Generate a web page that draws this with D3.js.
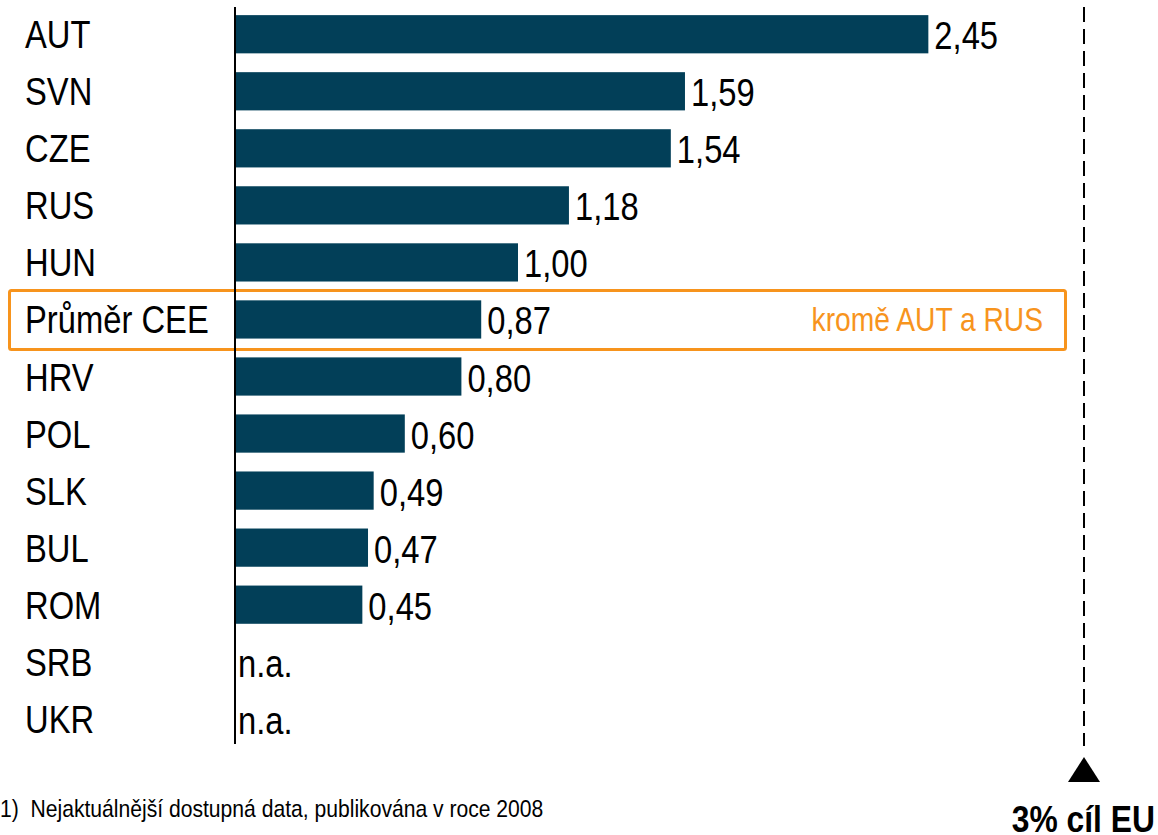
<!DOCTYPE html>
<html>
<head>
<meta charset="utf-8">
<script src="https://cdn.jsdelivr.net/npm/d3@7"></script>
<style>
  html, body { margin: 0; padding: 0; background: #fff; }
  svg { display: block; font-family: "Liberation Sans Narrow", "Arial Narrow", "Liberation Sans", Arial, sans-serif; }
</style>
</head>
<body>
<svg id="chart" width="1158" height="835"></svg>
<script>
// R&D spending, % of GDP
const countries = ["AUT", "SVN", "CZE", "RUS", "HUN", "Průměr CEE", "HRV", "POL", "SLK", "BUL", "ROM", "SRB", "UKR"];
const values = [2.45, 1.59, 1.54, 1.18, 1.00, 0.87, 0.80, 0.60, 0.49, 0.47, 0.45, null, null];
const targetValue = 3;
const averageLabel = "Průměr CEE";
const averageNote = "kromě AUT a RUS";
const targetLabel = "3% cíl EU";
const footnote = "1)  Nejaktuálnější dostupná data, publikována v roce 2008";

const BAR = "#023f58", ORANGE = "#f7941d";
// no narrow font installed -> squeeze regular text horizontally
const NARROW = 0.84;
const svg = d3.select("#chart");
const x0 = 235;
const x = d3.scaleLinear().domain([0, targetValue]).range([x0, 1084]);
const y = d3.scaleBand().domain(countries).range([6, 747]).paddingInner(0.33).paddingOuter(0.16);
const fmt = (v) => v.toFixed(2).replace(".", ",");
const rows = countries.map((c, i) => ({ c, v: values[i] }));
const at = (px, py, sx) => `translate(${px},${py}) scale(${sx},1)`;

// highlight box for the CEE average
const ya = y(averageLabel) + y.bandwidth() / 2;
svg.append("rect").attr("x", 9.5).attr("y", ya - 29).attr("width", 1056).attr("height", 59).attr("rx", 2)
  .attr("fill", "none").attr("stroke", ORANGE).attr("stroke-width", 3);
svg.append("text").attr("transform", at(1043, ya + 12, 0.855)).attr("text-anchor", "end")
  .attr("font-size", "33px").attr("fill", ORANGE).text(averageNote);

// bars
svg.append("g").selectAll("rect").data(rows.filter((d) => d.v != null)).join("rect")
  .attr("x", x0).attr("y", (d) => y(d.c)).attr("width", (d) => x(d.v) - x0).attr("height", y.bandwidth())
  .attr("fill", BAR);

// category labels
svg.append("g").selectAll("text").data(rows).join("text")
  .attr("transform", (d) => at(25, y(d.c) + y.bandwidth() / 2 + 14, NARROW))
  .attr("font-size", "39px").attr("fill", "#000").text((d) => d.c);

// value labels
svg.append("g").selectAll("text").data(rows).join("text")
  .attr("transform", (d) => at(d.v == null ? x0 + 3 : x(d.v) + 6, y(d.c) + y.bandwidth() / 2 + 15, NARROW))
  .attr("font-size", "39px").attr("fill", "#000").text((d) => (d.v == null ? "n.a." : fmt(d.v)));

// axis line
svg.append("line").attr("x1", x0).attr("x2", x0).attr("y1", 7).attr("y2", 744)
  .attr("stroke", "#000").attr("stroke-width", 2);

// EU target line
const xt = x(targetValue);
svg.append("line").attr("x1", xt).attr("x2", xt).attr("y1", 7).attr("y2", 746)
  .attr("stroke", "#000").attr("stroke-width", 2).attr("stroke-dasharray", "15,7");
svg.append("path").attr("d", `M${xt - 16},782 L${xt},757 L${xt + 16},782 Z`).attr("fill", "#000");
svg.append("text").attr("transform", at(1155, 832, 0.86)).attr("text-anchor", "end")
  .attr("font-size", "37px").attr("font-weight", "bold").attr("fill", "#000").text(targetLabel);

// footnote
svg.append("text").attr("transform", at(0, 817, 0.88)).attr("font-size", "24px").attr("fill", "#000")
  .attr("xml:space", "preserve").style("white-space", "pre").text(footnote);
</script>
</body>
</html>
